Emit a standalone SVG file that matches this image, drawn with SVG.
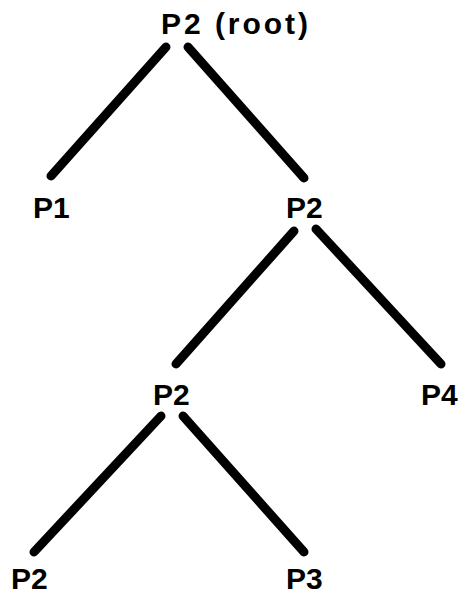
<svg xmlns="http://www.w3.org/2000/svg" width="459" height="596" viewBox="0 0 459 596">
  <style>
    .lbl { font-family: "Liberation Sans", Arial, sans-serif; font-weight: bold; font-size: 30px; fill: #000; }
    .edge { stroke: #000; stroke-width: 9; stroke-linecap: round; fill: none; }
  </style>
  <rect width="459" height="596" fill="#fff"/>
  <g id="connectors">
    <line class="edge" x1="166" y1="47" x2="51" y2="176"/>
    <line class="edge" x1="188" y1="47" x2="304" y2="178"/>
    <line class="edge" x1="294" y1="231" x2="176" y2="364"/>
    <line class="edge" x1="316" y1="229" x2="441" y2="364"/>
    <line class="edge" x1="161" y1="416" x2="34" y2="552"/>
    <line class="edge" x1="183" y1="416" x2="304" y2="552"/>
  </g>
  <g id="root"><text class="lbl" x="161" y="34" textLength="147" lengthAdjust="spacing">P2 (root)</text></g>
  <g id="p1"><text class="lbl" x="33" y="218">P1</text></g>
  <g id="p2-a"><text class="lbl" x="286" y="218">P2</text></g>
  <g id="p2-b"><text class="lbl" x="153" y="405">P2</text></g>
  <g id="p4"><text class="lbl" x="421" y="405">P4</text></g>
  <g id="p2-c"><text class="lbl" x="11" y="589">P2</text></g>
  <g id="p3"><text class="lbl" x="286" y="589">P3</text></g>
</svg>
